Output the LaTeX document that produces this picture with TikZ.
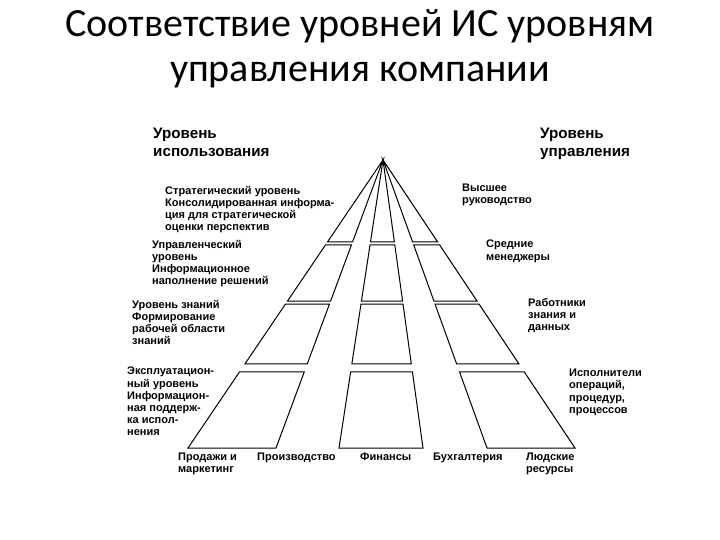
\documentclass[tikz,border=0pt]{standalone}
\usepackage{fontspec}
\setmainfont{Liberation Sans}
\newfontfamily\titlefont{Carlito}
\usetikzlibrary{calc}
\tikzset{
  lbl/.style={font=\bfseries\fontsize{11}{12.2}\selectfont, align=left, anchor=north west, inner sep=0pt},
  hdr/.style={font=\bfseries\fontsize{15.2}{17.5}\selectfont, align=left, anchor=north west, inner sep=0pt},
  ttl/.style={font=\titlefont\fontsize{40}{48}\selectfont, anchor=base, inner sep=0pt},
  cellline/.style={draw=black, line width=1pt, line join=miter}
}
\newcommand\pyrcell[4]{\draw[cellline] ($(A)!#3!(b#1)$) -- ($(A)!#4!(b#1)$) -- ($(A)!#4!(b#2)$) -- ($(A)!#3!(b#2)$) -- cycle;}
\newcommand\pyrtop[2]{\draw[cellline] (A) -- ($(A)!0.2847!(b#1)$) -- ($(A)!0.2847!(b#2)$) -- cycle;}
\begin{document}
\begin{tikzpicture}[x=1pt,y=-1pt]
\useasboundingbox (0,0) rectangle (720,540);
\fill[white] (0,0) rectangle (720,540);
% title
\node[ttl] (t1) at (360,37) {Соответствие уровней ИС уровням};
\node[ttl] (t2) at (360,82) {управления компании};
% pyramid geometry
\coordinate (A) at (383,160);
\coordinate (b0) at (188,448);
\coordinate (b1) at (276,448);
\coordinate (b2) at (339,448);
\coordinate (b3) at (423,448);
\coordinate (b4) at (487,448);
\coordinate (b5) at (575,448);
% top triangles
\pyrtop{0}{1}
\pyrtop{2}{3}
\pyrtop{4}{5}
% level 2
\pyrcell{0}{1}{0.2951}{0.4896}
\pyrcell{2}{3}{0.2951}{0.4896}
\pyrcell{4}{5}{0.2951}{0.4896}
% level 3
\pyrcell{0}{1}{0.5}{0.7083}
\pyrcell{2}{3}{0.5}{0.7083}
\pyrcell{4}{5}{0.5}{0.7083}
% level 4
\pyrcell{0}{1}{0.7361}{1}
\pyrcell{2}{3}{0.7361}{1}
\pyrcell{4}{5}{0.7361}{1}
% headers
\node[hdr] (hu) at (153,128) {Уровень\\использования};
\node[hdr] (hm) at (540,128) {Уровень\\управления};
% left labels
\node[lbl] (l1) at (165,186) {Стратегический уровень\\Консолидированная информа-\\ция для стратегической\\оценки перспектив};
\node[lbl] (l2) at (152,240) {Управленческий\\уровень\\Информационное\\наполнение решений};
\node[lbl] (l3) at (132,300) {Уровень знаний\\Формирование\\рабочей области\\знаний};
\node[lbl] (l4) at (127,367) {Эксплуатацион-\\ный уровень\\Информацион-\\ная поддерж-\\ка испол-\\нения};
% right labels
\node[lbl] (r1) at (462,184) {Высшее\\руководство};
\node[lbl] (r2) at (486,240) {Средние\\менеджеры};
\node[lbl] (r3) at (528,298) {Работники\\знания и\\данных};
\node[lbl] (r4) at (569,369) {Исполнители\\операций,\\процедур,\\процессов};
% bottom labels
\node[lbl] (f1) at (178,453) {Продажи и\\маркетинг};
\node[lbl] (f2) at (257,453) {Производство};
\node[lbl] (f3) at (360,453) {Финансы};
\node[lbl] (f4) at (433,453) {Бухгалтерия};
\node[lbl] (f5) at (526,453) {Людские\\ресурсы};
\end{tikzpicture}
\end{document}
